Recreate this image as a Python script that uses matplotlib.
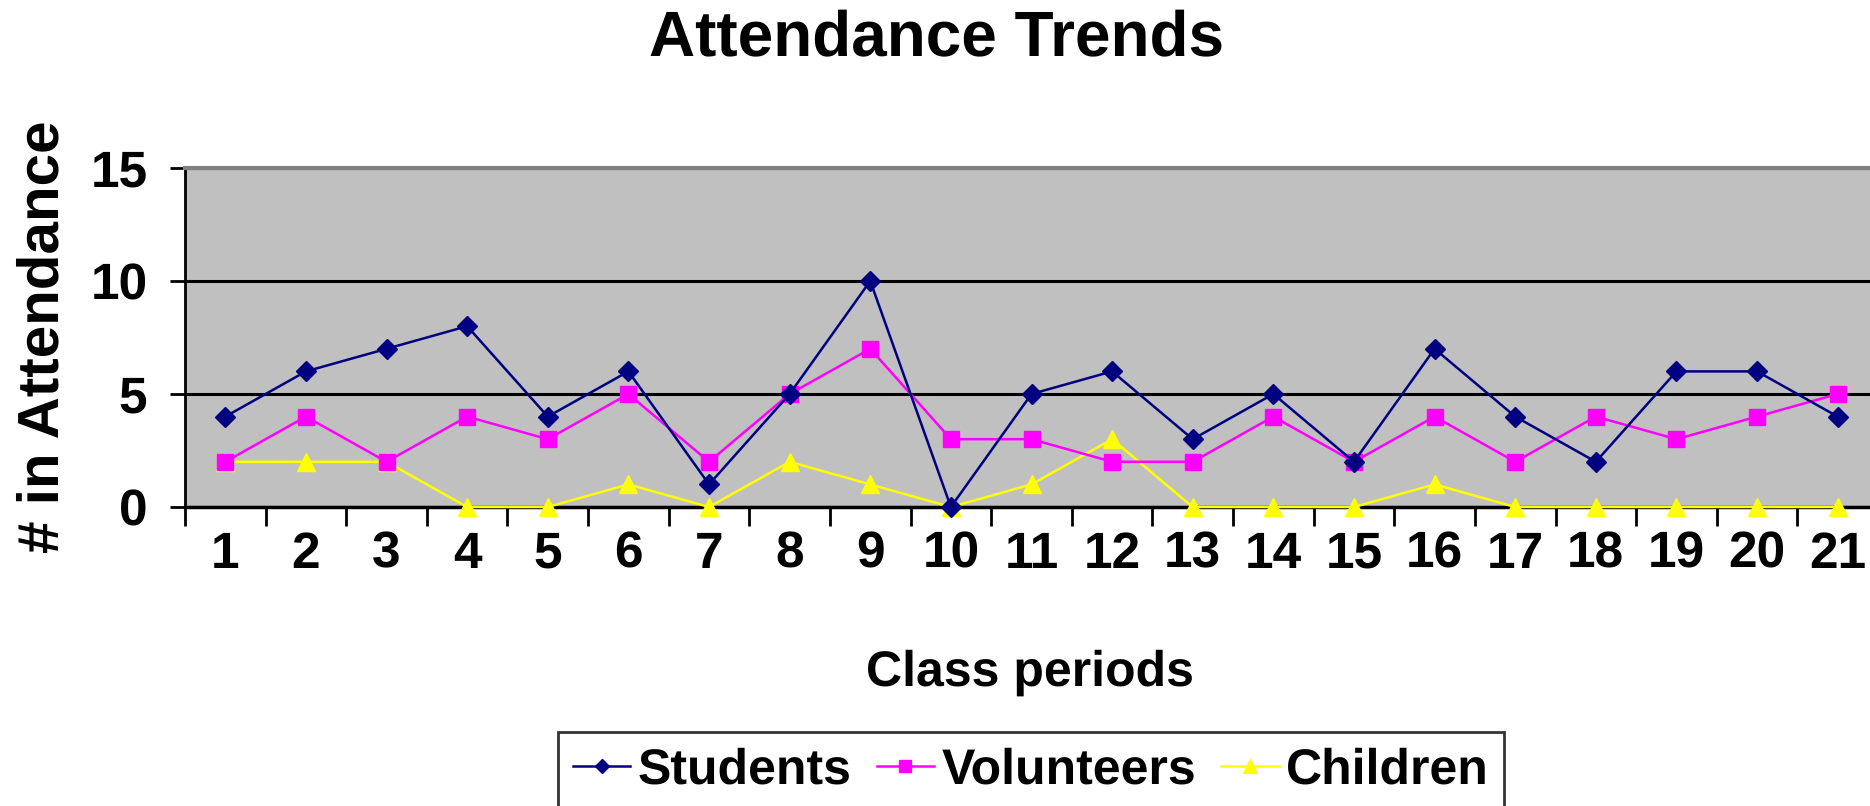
import matplotlib
matplotlib.use("Agg")
import matplotlib.pyplot as plt
from matplotlib.ticker import FixedLocator

plt.rcParams['font.family'] = ['Liberation Sans', 'DejaVu Sans']
plt.rcParams['font.weight'] = 'bold'
plt.rcParams['text.hinting'] = 'no_hinting'

periods = list(range(1, 22))
students = [4, 6, 7, 8, 4, 6, 1, 5, 10, 0, 5, 6, 3, 5, 2, 7, 4, 2, 6, 6, 4]
volunteers = [2, 4, 2, 4, 3, 5, 2, 5, 7, 3, 3, 2, 2, 4, 2, 4, 2, 4, 3, 4, 5]
children = [2, 2, 2, 0, 0, 1, 0, 2, 1, 0, 1, 3, 0, 0, 0, 1, 0, 0, 0, 0, 0]
yticks = [0, 5, 10, 15]

W, H = 1870, 806
fig = plt.figure(figsize=(W / 100, H / 100), dpi=100)
left, right, top, bottom = 185, 1878, 168, 507
ax = fig.add_axes([left / W, 1 - bottom / H, (right - left) / W, (bottom - top) / H])
ax.set_facecolor('#C0C0C0')

ax.plot(periods, students, color='#000080', marker='D', markersize=10, lw=1.8,
        label='Students', clip_on=False, zorder=5)
ax.plot(periods, volunteers, color='#FF00FF', marker='s', markersize=12, lw=1.8,
        label='Volunteers', clip_on=False, zorder=4)
ax.plot(periods, children, color='#FFFF00', marker='^', markersize=13, lw=1.8,
        label='Children', clip_on=False, zorder=3)

ax.set_xlim(0.5, 21.5)
ax.set_ylim(0, 15)
ax.set_yticks(yticks)
ax.set_xticks(periods)
ax.xaxis.set_minor_locator(FixedLocator([i + 0.5 for i in range(0, 22)]))
ax.tick_params(axis='x', which='major', length=0, pad=17, labelsize=37)
ax.tick_params(axis='x', which='minor', length=14, width=2, color='black')
ax.tick_params(axis='y', which='major', length=11, width=2, labelsize=37, pad=16)
for lbl in ax.get_xticklabels() + ax.get_yticklabels():
    lbl.set_fontweight('bold')

ax.grid(axis='y', color='black', lw=2.2)
ax.set_axisbelow(True)
ax.spines['left'].set_linewidth(2)
ax.spines['bottom'].set_linewidth(2.5)
ax.spines['bottom'].set_zorder(2)
ax.spines['top'].set_color('#808080')
ax.spines['top'].set_linewidth(3)
ax.spines['right'].set_visible(False)

fig.text(1030 / W, 1 - 686 / H, 'Class periods', fontsize=36,
         fontweight='bold', ha='center', va='baseline')
fig.text(58 / W, 1 - 337 / H, '# in Attendance', rotation=90, fontsize=42,
         fontweight='bold', ha='center', va='baseline', rotation_mode='anchor')
fig.text(937 / W, 1 - 56 / H, 'Attendance Trends', fontsize=46,
         fontweight='bold', ha='center', va='baseline')

leg = fig.legend(loc='upper center', bbox_to_anchor=(1031 / W, 1 - 732 / H), ncol=3,
                 fontsize=36, frameon=True, fancybox=False, edgecolor='black',
                 handlelength=1.15, handletextpad=0.15, columnspacing=0.5,
                 borderpad=0.3, borderaxespad=0, markerscale=0.75)
leg.get_frame().set_linewidth(2)
for t in leg.get_texts():
    t.set_fontweight('bold')

fig.savefig('out.png', dpi=100)
